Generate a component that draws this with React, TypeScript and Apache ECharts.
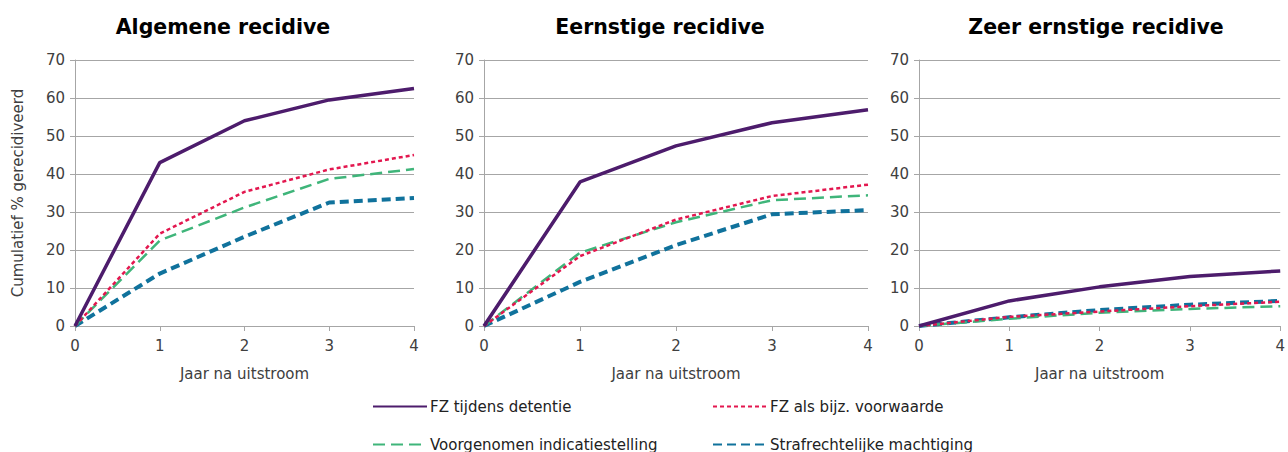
import React, { useEffect, useRef } from "react";
import * as echarts from "echarts";

const years = ["0", "1", "2", "3", "4"];
const panelTitles = ["Algemene recidive", "Eernstige recidive", "Zeer ernstige recidive"];
const seriesNames = [
  "FZ tijdens detentie",
  "FZ als bijz. voorwaarde",
  "Voorgenomen indicatiestelling",
  "Strafrechtelijke machtiging",
];

// Algemene recidive
const algDetentie = [0, 43, 54, 59.5, 62.5];
const algVoorwaarde = [0, 24.3, 35.3, 41.2, 45];
const algIndicatie = [0, 22.5, 31.2, 38.7, 41.3];
const algMachtiging = [0, 13.8, 23.5, 32.5, 33.7];

// Ernstige recidive
const ernDetentie = [0, 37.9, 47.4, 53.5, 56.9];
const ernVoorwaarde = [0, 18.4, 28, 34.2, 37.2];
const ernIndicatie = [0, 19.3, 27.3, 33.1, 34.4];
const ernMachtiging = [0, 11.6, 21.3, 29.4, 30.5];

// Zeer ernstige recidive
const zeerDetentie = [0, 6.6, 10.3, 13, 14.5];
const zeerVoorwaarde = [0, 2.4, 3.8, 5.2, 6.4];
const zeerIndicatie = [0, 1.9, 3.5, 4.5, 5.2];
const zeerMachtiging = [0, 2.3, 4.2, 5.6, 6.6];

const panels = [
  [algDetentie, algVoorwaarde, algIndicatie, algMachtiging],
  [ernDetentie, ernVoorwaarde, ernIndicatie, ernMachtiging],
  [zeerDetentie, zeerVoorwaarde, zeerIndicatie, zeerMachtiging],
];

const FONT = "'DejaVu Sans', Verdana, sans-serif";
const GRIDC = "#a6a6a6";
const TXT = "#404040";

const lineStyles = [
  { color: "#4d1c6c", width: 3.5, type: "solid" as any },
  { color: "#e3174f", width: 2.5, type: [4, 3] as any },
  { color: "#3fb57a", width: 2.5, type: [12, 6] as any },
  { color: "#10729c", width: 4, type: [9, 5] as any },
];

const grids = [
  { left: 75, top: 60, width: 339, height: 266 },
  { left: 484, top: 60, width: 384, height: 266 },
  { left: 919, top: 60, width: 365, height: 266 },
];

const titleCenters = [218, 655, 1091];

export default function App() {
  const ref = useRef<HTMLDivElement>(null);
  useEffect(() => {
    if (!ref.current) return;
    const chart = echarts.init(ref.current, null, { renderer: "svg" });
    const series: any[] = [];
    panels.forEach((panel, gi) => {
      panel.forEach((vals, si) => {
        series.push({
          type: "line",
          name: seriesNames[si],
          xAxisIndex: gi,
          yAxisIndex: gi,
          data: vals,
          symbol: "none",
          lineStyle: lineStyles[si],
          itemStyle: { color: lineStyles[si].color },
          z: 10 - si,
        });
      });
    });
    const legendPos = [
      { left: 367, top: 394 },
      { left: 707, top: 394 },
      { left: 367, top: 432 },
      { left: 707, top: 432 },
    ];
    chart.setOption({
      animation: false,
      textStyle: { fontFamily: FONT },
      title: grids.map((g, i) => ({
        text: panelTitles[i],
        left: titleCenters[i],
        textAlign: "center",
        top: 11,
        textStyle: { fontFamily: FONT, fontSize: 20.5, fontWeight: "bold", color: "#000" },
      })),
      legend: seriesNames.map((n, i) => ({
        data: [n],
        left: legendPos[i].left,
        top: legendPos[i].top,
        itemWidth: 54,
        itemHeight: 14,
        itemGap: 4,
        itemStyle: { opacity: 0 },
        textStyle: { fontFamily: FONT, fontSize: 15, color: "#222", padding: [0, 0, 0, -2] },
        selectedMode: false,
      })),
      grid: grids,
      xAxis: grids.map((_, i) => ({
        type: "category",
        gridIndex: i,
        data: years,
        boundaryGap: false,
        name: "Jaar na uitstroom",
        nameLocation: "middle",
        nameGap: 40,
        nameTextStyle: { fontFamily: FONT, fontSize: 15, color: TXT },
        axisLine: { show: true, lineStyle: { color: GRIDC, width: 1 } },
        axisTick: { show: true, length: 5, alignWithLabel: true, lineStyle: { color: GRIDC } },
        axisLabel: { fontFamily: FONT, fontSize: 15, color: TXT, margin: 12 },
        splitLine: { show: false },
      })),
      yAxis: grids.map((_, i) => ({
        type: "value",
        gridIndex: i,
        min: 0,
        max: 70,
        interval: 10,
        name: i === 0 ? "Cumulatief % gerecidiveerd" : "",
        nameLocation: "middle",
        nameGap: 50,
        nameRotate: 90,
        nameTextStyle: { fontFamily: FONT, fontSize: 15, color: TXT },
        axisLine: { show: true, lineStyle: { color: GRIDC, width: 1 } },
        axisTick: { show: true, length: 5, lineStyle: { color: GRIDC } },
        axisLabel: { fontFamily: FONT, fontSize: 15, color: TXT, margin: 10 },
        splitLine: { show: true, lineStyle: { color: GRIDC, width: 1 } },
      })),
      series,
    });
    return () => chart.dispose();
  }, []);
  return (
    <div
      ref={ref}
      style={{ position: "fixed", left: 0, top: 0, width: 1288, height: 452, background: "#fff" }}
    />
  );
}
